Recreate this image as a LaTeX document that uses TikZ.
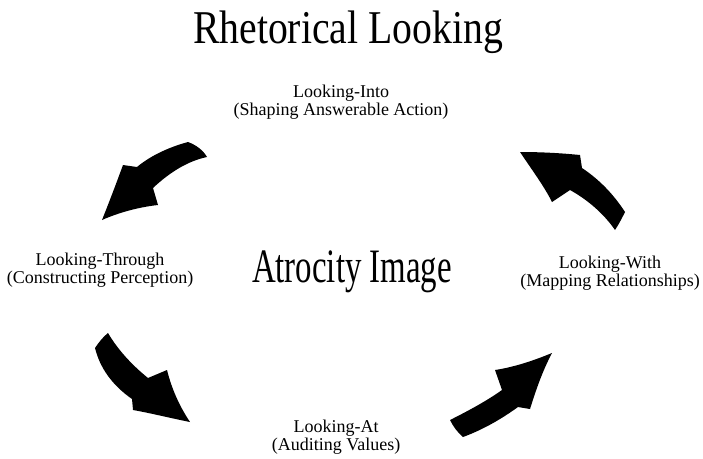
\documentclass[tikz,border=0pt]{standalone}
\usepackage{fontspec}
\usepackage{graphicx}
\setmainfont{Liberation Serif}
\begin{document}
\begin{tikzpicture}[x=1pt,y=-1pt,
  lbl/.style={align=center,font=\fontsize{18}{18}\selectfont,inner sep=0pt},
  big/.style={anchor=base,inner sep=0pt},
  bigarrow/.style={fill=black,draw=none}]
\useasboundingbox (0,0) rectangle (703,458);
% title and centre
\node[big] (title) at (348,43) {\fontsize{47}{47}\selectfont\scalebox{0.845}[1]{Rhetorical Looking}};
\node[big] (centre) at (352,282) {\fontsize{48}{48}\selectfont\scalebox{0.685}[1]{Atrocity Image}};
% labels
\node[lbl] (into) at (341,102) {Looking-Into\\(Shaping Answerable Action)};
\node[lbl] (through) at (100,270) {Looking-Through\\(Constructing Perception)};
\node[lbl] (with) at (610,273.5) {Looking-With\\(Mapping Relationships)};
\node[lbl] (at) at (336,437) {Looking-At\\(Auditing Values)};
% arrow top-left
\fill[bigarrow] (188,142) .. controls (166,148) and (149,157) .. (137,167)
  -- (123,165) .. controls (116,184) and (110,200) .. (102,220)
  .. controls (120,212) and (140,207) .. (158,205)
  -- (153,188) .. controls (170,172) and (188,161) .. (207,157)
  .. controls (203,150) and (196,145) .. (188,142) -- cycle;
% arrow top-right
\fill[bigarrow] (625,212) .. controls (614,195) and (600,180) .. (582,168)
  -- (580,155) .. controls (560,153) and (540,152) .. (520,152)
  .. controls (532,170) and (544,186) .. (552,202)
  -- (570,190) .. controls (588,200) and (604,214) .. (615,230)
  .. controls (619,224) and (622,218) .. (625,212) -- cycle;
% arrow bottom-left
\fill[bigarrow] (108,333) .. controls (118,350) and (132,365) .. (148,378)
  -- (167,370) .. controls (172,390) and (180,407) .. (190,422)
  .. controls (170,418) and (150,413) .. (133,410)
  -- (132,399) .. controls (112,385) and (100,368) .. (95,348)
  .. controls (99,342) and (103,337) .. (108,333) -- cycle;
% arrow bottom-right
\fill[bigarrow] (450,420) .. controls (470,410) and (488,400) .. (502,390)
  -- (495,370) .. controls (515,367) and (535,360) .. (552,353)
  .. controls (542,372) and (536,390) .. (530,409)
  -- (518,407) .. controls (500,420) and (482,430) .. (463,437)
  .. controls (457,432) and (453,426) .. (450,420) -- cycle;
\end{tikzpicture}
\end{document}
